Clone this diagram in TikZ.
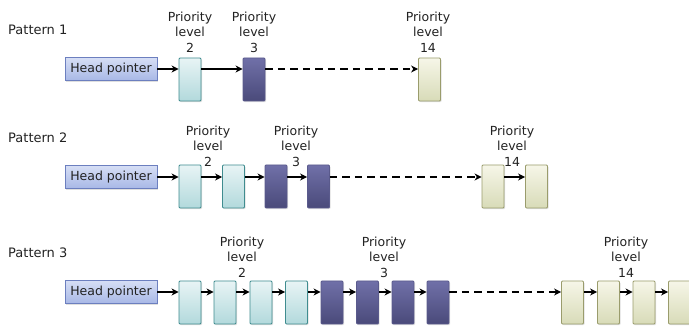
\documentclass[tikz,border=0pt]{standalone}
\usepackage{fontspec}
\setmainfont{DejaVu Sans}
\usetikzlibrary{arrows.meta,shadows}
\definecolor{tTop}{HTML}{E8F4F5}
\definecolor{tBot}{HTML}{B2D9DC}
\definecolor{tBrd}{HTML}{3F8C8F}
\definecolor{pTop}{HTML}{7070A8}
\definecolor{pBot}{HTML}{4A4A7A}
\definecolor{pBrd}{HTML}{5A5A8C}
\definecolor{yTop}{HTML}{F6F6E8}
\definecolor{yBot}{HTML}{D8DBB8}
\definecolor{yBrd}{HTML}{9A9C6C}
\definecolor{hTop}{HTML}{D6DEF5}
\definecolor{hBot}{HTML}{A8B8E6}
\definecolor{hBrd}{HTML}{6C7FBF}
\definecolor{txt}{HTML}{222222}
\tikzset{
  x=1pt, y=-1pt,
  every node/.style={text=txt},
  qbox/.style={minimum width=22pt, minimum height=43pt, inner sep=0pt, line width=0.9pt, rounded corners=1pt,
     drop shadow={opacity=0.25, shadow xshift=1pt, shadow yshift=-1.2pt}},
  tbox/.style={qbox, draw=tBrd, top color=tTop, bottom color=tBot},
  pbox/.style={qbox, draw=pBrd, top color=pTop, bottom color=pBot},
  ybox/.style={qbox, draw=yBrd, top color=yTop, bottom color=yBot},
  hp/.style={minimum width=92pt, minimum height=23pt, inner sep=0pt, line width=0.9pt, draw=hBrd,
     top color=hTop, bottom color=hBot, font=\fontsize{12.5}{14}\selectfont,
     drop shadow={opacity=0.25, shadow xshift=1pt, shadow yshift=-1.2pt}},
  lbl/.style={align=center, inner sep=0pt, font=\fontsize{12.5}{15.5}\selectfont},
  pat/.style={anchor=west, inner sep=0pt, font=\fontsize{13}{14}\selectfont},
  arr/.style={line width=1.8pt, -{Stealth[length=7pt,width=7pt]}},
  darr/.style={arr, dash pattern=on 7.5pt off 5pt},
}
\begin{document}
\begin{tikzpicture}
\useasboundingbox (0,0) rectangle (689,331);
% ---------- Pattern 1
\node[pat] (pt1) at (8,30) {Pattern 1};
\node[hp] (h1) at (111,69) {Head pointer};
\node[tbox] (a1) at (190,79.5) {};
\node[pbox] (a2) at (254,79.5) {};
\node[ybox] (a3) at (429.5,79.5) {};
\node[lbl] (la2) at (190,32) {Priority\\level\\2};
\node[lbl] (la3) at (254,32) {Priority\\level\\3};
\node[lbl] (la14) at (428,32) {Priority\\level\\14};
\draw[arr] (h1.east) -- (h1.east -| a1.west);
\draw[arr] (a1.east |- h1.east) -- (a2.west |- h1.east);
\draw[darr] (a2.east |- h1.east) -- (a3.west |- h1.east);
% ---------- Pattern 2
\node[pat] (pt2) at (8,138) {Pattern 2};
\node[hp] (h2) at (111,177) {Head pointer};
\node[tbox] (b1) at (190,186.5) {};
\node[tbox] (b2) at (233.5,186.5) {};
\node[pbox] (b3) at (276,186.5) {};
\node[pbox] (b4) at (318.5,186.5) {};
\node[ybox] (b5) at (493,186.5) {};
\node[ybox] (b6) at (536.5,186.5) {};
\node[lbl] (lb2) at (208,146) {Priority\\level\\2};
\node[lbl] (lb3) at (296,146) {Priority\\level\\3};
\node[lbl] (lb14) at (512,146) {Priority\\level\\14};
\draw[arr] (h2.east) -- (h2.east -| b1.west);
\draw[arr] (b1.east |- h2.east) -- (b2.west |- h2.east);
\draw[arr] (b2.east |- h2.east) -- (b3.west |- h2.east);
\draw[arr] (b3.east |- h2.east) -- (b4.west |- h2.east);
\draw[darr] (b4.east |- h2.east) -- (b5.west |- h2.east);
\draw[arr] (b5.east |- h2.east) -- (b6.west |- h2.east);
% ---------- Pattern 3
\node[pat] (pt3) at (8,253) {Pattern 3};
\node[hp] (h3) at (111,292) {Head pointer};
\node[tbox] (c1) at (190,302.5) {};
\node[tbox] (c2) at (225,302.5) {};
\node[tbox] (c3) at (261,302.5) {};
\node[tbox] (c4) at (296.5,302.5) {};
\node[pbox] (c5) at (332,302.5) {};
\node[pbox] (c6) at (367.5,302.5) {};
\node[pbox] (c7) at (403,302.5) {};
\node[pbox] (c8) at (438,302.5) {};
\node[ybox] (c9) at (572.5,302.5) {};
\node[ybox] (c10) at (608.5,302.5) {};
\node[ybox] (c11) at (644,302.5) {};
\node[ybox] (c12) at (679.5,302.5) {};
\node[lbl] (lc2) at (242,257) {Priority\\level\\2};
\node[lbl] (lc3) at (384,257) {Priority\\level\\3};
\node[lbl] (lc14) at (626,257) {Priority\\level\\14};
\draw[arr] (h3.east) -- (h3.east -| c1.west);
\foreach \i/\j in {c1/c2,c2/c3,c3/c4,c4/c5,c5/c6,c6/c7,c7/c8,c9/c10,c10/c11,c11/c12}
  \draw[arr] (\i.east |- h3.east) -- (\j.west |- h3.east);
\draw[darr] (c8.east |- h3.east) -- (c9.west |- h3.east);
\end{tikzpicture}
\end{document}
